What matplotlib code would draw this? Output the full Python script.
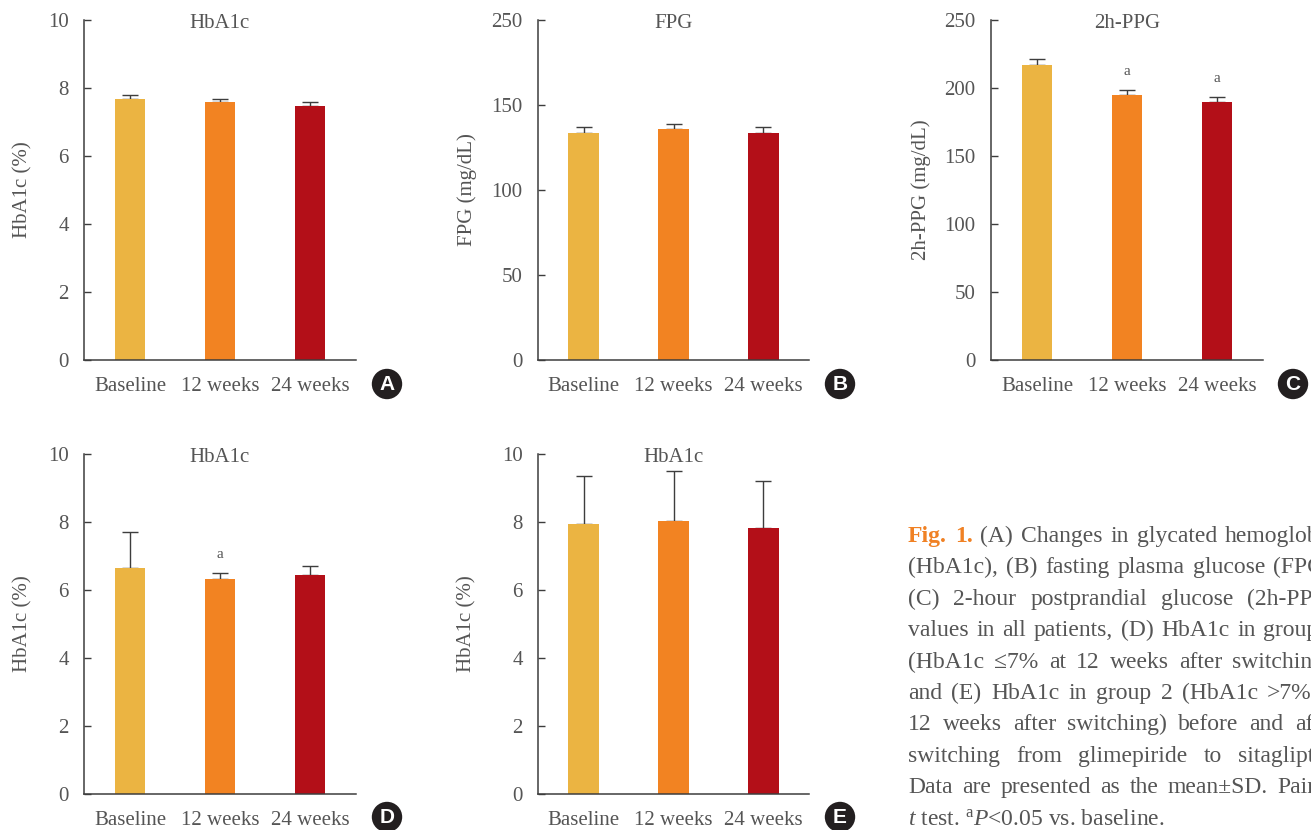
import matplotlib
matplotlib.use('Agg')
import matplotlib.pyplot as plt
from matplotlib import patches

plt.rcParams['font.family'] = ['Liberation Serif', 'DejaVu Serif']
plt.rcParams['mathtext.fontset'] = 'custom'
plt.rcParams['mathtext.rm'] = 'Liberation Serif'
plt.rcParams['mathtext.it'] = 'Liberation Serif:italic'

# data (mean, SD)
categories = ['Baseline', '12 weeks', '24 weeks']
hba1c_all = [7.68, 7.59, 7.47]
hba1c_all_sd = [0.12, 0.10, 0.11]
fpg_all = [133.3, 135.9, 133.3]
fpg_all_sd = [3.5, 3.1, 3.5]
ppg_all = [216.7, 194.9, 189.7]
ppg_all_sd = [4.5, 3.9, 3.7]
hba1c_g1 = [6.66, 6.33, 6.44]
hba1c_g1_sd = [1.06, 0.17, 0.28]
hba1c_g2 = [7.94, 8.04, 7.82]
hba1c_g2_sd = [1.41, 1.45, 1.39]

bar_colors = ['#EBB442', '#F28322', '#B30F18']
text_gray = '#555555'
axis_gray = '#3d3d3d'

W, H = 1311, 830
fig = plt.figure(figsize=(W / 100, H / 100), dpi=100)


def px_axes(left, top, right, bottom):
    return fig.add_axes([left / W, 1 - bottom / H, (right - left) / W, (bottom - top) / H])


def panel(ax, vals, sds, title, ylabel, ymax, yticks, yticklabels, ylab_x, sig=()):
    x = range(len(categories))
    ax.bar(x, vals, width=0.344, color=bar_colors, zorder=2)
    ax.errorbar(x, vals, yerr=[[0] * len(sds), sds], fmt='none', ecolor=axis_gray,
                elinewidth=1, capsize=5.5, capthick=1, zorder=1)
    for i in sig:
        ax.annotate('a', xy=(i, vals[i] + sds[i]), xytext=(0, 13), textcoords='offset points',
                    ha='center', va='center', fontsize=11, color=text_gray)
    ax.set_xlim(-0.511, 2.511)
    ax.set_ylim(0, ymax)
    ax.set_yticks(yticks)
    ax.set_yticklabels(yticklabels)
    ax.set_xticks(list(x))
    ax.set_xticklabels(categories)
    for s in ['top', 'right']:
        ax.spines[s].set_visible(False)
    for s in ['left', 'bottom']:
        ax.spines[s].set_color(axis_gray)
        ax.spines[s].set_linewidth(1.1)
    ax.tick_params(axis='y', direction='in', length=5, width=1, color=axis_gray,
                   labelsize=15, labelcolor=text_gray, pad=11)
    ax.tick_params(axis='x', length=0, labelsize=15, labelcolor=text_gray, pad=12)
    ax.text(0.5, 0.991, title, transform=ax.transAxes, ha='center', va='center',
            fontsize=15, color=text_gray)
    ax.set_ylabel(ylabel, fontsize=15, color=text_gray)
    ax.yaxis.label.set_va('center')
    ax.yaxis.set_label_coords(ylab_x, 0.5)


axA = px_axes(84, 20, 356, 360)
panel(axA, hba1c_all, hba1c_all_sd, 'HbA1c', 'HbA1c (%)', 10, [0, 2, 4, 6, 8, 10],
      ['0', '2', '4', '6', '8', '10'], -0.225)
axB = px_axes(538, 20, 809, 360)
# the original figure labels its top tick (200) as "250"
panel(axB, fpg_all, fpg_all_sd, 'FPG', 'FPG (mg/dL)', 200, [0, 50, 100, 150, 200],
      ['0', '50', '100', '150', '250'], -0.262)
axC = px_axes(991, 20, 1263, 360)
panel(axC, ppg_all, ppg_all_sd, '2h-PPG', '2h-PPG (mg/dL)', 250, [0, 50, 100, 150, 200, 250],
      ['0', '50', '100', '150', '200', '250'], -0.257, sig=(1, 2))
axD = px_axes(84, 454, 356, 794)
panel(axD, hba1c_g1, hba1c_g1_sd, 'HbA1c', 'HbA1c (%)', 10, [0, 2, 4, 6, 8, 10],
      ['0', '2', '4', '6', '8', '10'], -0.225, sig=(1,))
axE = px_axes(538, 454, 809, 794)
panel(axE, hba1c_g2, hba1c_g2_sd, 'HbA1c', 'HbA1c (%)', 10, [0, 2, 4, 6, 8, 10],
      ['0', '2', '4', '6', '8', '10'], -0.262)

# panel letters in black circles
for letter, cx, cy in [('A', 387, 384), ('B', 840, 384), ('C', 1293, 384),
                       ('D', 387, 817), ('E', 840, 817)]:
    circ = patches.Circle((cx / 100, (H - cy) / 100), 0.152, transform=fig.dpi_scale_trans,
                          facecolor='#231f20', edgecolor='none')
    fig.add_artist(circ)
    fig.text(cx / W, 1 - cy / H, letter, ha='center', va='center', color='white',
             fontsize=15, fontweight='bold', family='Liberation Sans')

# caption, justified to a column that runs past the right edge
caption_lines = [
    'Fig. 1. (A) Changes in glycated hemoglobin',
    '(HbA1c), (B) fasting plasma glucose (FPG),',
    '(C) 2-hour postprandial glucose (2h-PPG)',
    'values in all patients, (D) HbA1c in group 1',
    '(HbA1c \u22647% at 12 weeks after switching),',
    'and (E) HbA1c in group 2 (HbA1c >7% at',
    '12 weeks after switching) before and after',
    'switching from glimepiride to sitagliptin.',
    'Data are presented as the mean\u00b1SD. Paired',
]
cap_x0 = 908
cap_w = 430
cap_y0 = 542
cap_dy = 31.4
cap_size = 17
renderer = fig.canvas.get_renderer()
for i, line in enumerate(caption_lines):
    words = line.split(' ')
    items = []
    for j, w in enumerate(words):
        if i == 0 and j < 2:
            t = fig.text(0, 0, w, fontsize=cap_size, color='#F08124', fontweight='bold')
        else:
            t = fig.text(0, 0, w, fontsize=cap_size, color=text_gray)
        items.append(t)
    widths = [t.get_window_extent(renderer).width for t in items]
    gap = max((cap_w - sum(widths)) / (len(items) - 1), 4)
    xpos = cap_x0
    yb = cap_y0 + i * cap_dy
    for t, wd in zip(items, widths):
        t.set_position((xpos / W, 1 - yb / H))
        t.set_va('baseline')
        xpos += wd + gap

fig.text(cap_x0 / W, 1 - (cap_y0 + 9 * cap_dy) / H,
         r'$\mathit{t}$ test. $^{\mathrm{a}}\mathit{P}$<0.05 vs. baseline.',
         fontsize=cap_size, color=text_gray, va='baseline')

fig.savefig('out.png', dpi=100)
